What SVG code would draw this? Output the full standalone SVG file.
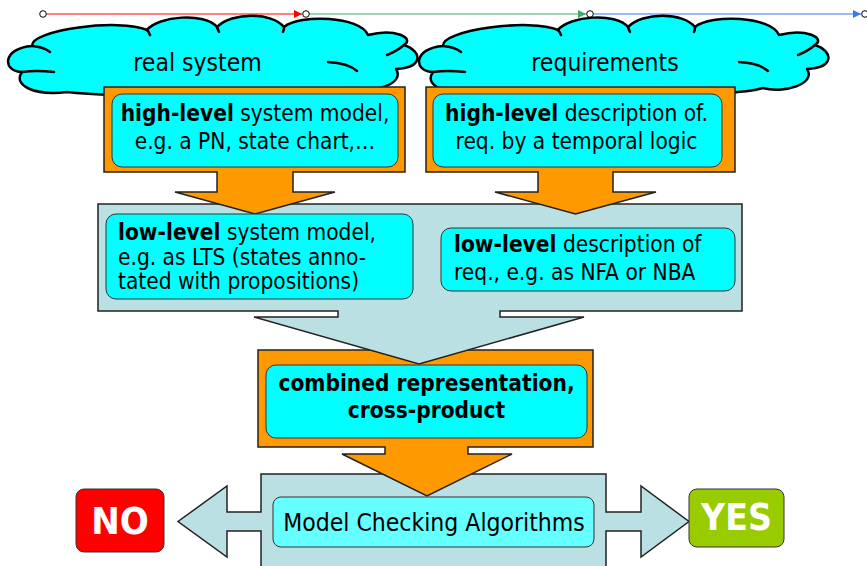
<svg xmlns="http://www.w3.org/2000/svg" xmlns:xlink="http://www.w3.org/1999/xlink" width="867" height="566" viewBox="0 0 867 566">
<style>
.cloud{fill:#00FFFF;stroke:#000;stroke-width:2.5;stroke-linejoin:round}
.inner{fill:none;stroke:#000;stroke-width:2.5;stroke-linecap:round}
.orange{fill:#FF9900;stroke:#222;stroke-width:1.5;stroke-linejoin:miter}
.teal{fill:#BBE0E3;stroke:#222;stroke-width:1.5}
.cyan{fill:#00FFFF;stroke:#333;stroke-width:1}
.lcyan{fill:#66FFFF;stroke:#333;stroke-width:1}
.t{font-family:"DejaVu Sans Condensed","DejaVu Sans",sans-serif;font-stretch:condensed;font-size:22.5px;fill:#000}
.b{font-weight:bold}
.big{font-size:24.5px}
.w{fill:#fff;font-weight:bold}
.no{font-size:38px}
.yes{font-size:37px}
.dot{fill:#fff;stroke:#000;stroke-width:1}
</style>
<defs>
<marker id="mr" markerUnits="userSpaceOnUse" markerWidth="9" markerHeight="8" refX="8" refY="4" orient="auto"><path d="M0,0 L8,4 L0,8 Z" fill="#FF0000"/></marker>
<marker id="mg" markerUnits="userSpaceOnUse" markerWidth="9" markerHeight="8" refX="8" refY="4" orient="auto"><path d="M0,0 L8,4 L0,8 Z" fill="#3FA76A"/></marker>
<marker id="mb" markerUnits="userSpaceOnUse" markerWidth="9" markerHeight="8" refX="8" refY="4" orient="auto"><path d="M0,0 L8,4 L0,8 Z" fill="#3F75F5"/></marker>
<g id="cloudShape">
<path class="cloud" d="M67,92 C36,96 12,86 22,72 C2,72 2,48 32,46 C30,30 120,18 147,30 C158,16 205,12 217,27 C232,12 272,12 284,27 C300,14 360,16 368,35 C395,28 415,38 404,45 C424,52 422,68 396,69 C406,84 372,94 352,88 C320,98 120,98 67,92 Z"/>
<path class="inner" d="M22,72 Q36,70 54,72 M32,46 Q44,47 50,52 M147,30 Q149,32 150,35 M217,27 Q218,30 219,32 M284,27 Q284,30 283,32 M404,45 Q397,51 387,55 M328,62 Q348,63 357,71"/>
</g>
</defs>

<g id="connectors">
<line x1="46.5" y1="14" x2="302" y2="14" stroke="#FF0000" stroke-width="1.2" marker-end="url(#mr)"/>
<line x1="309.5" y1="14" x2="586" y2="14" stroke="#3FA76A" stroke-width="1.2" marker-end="url(#mg)"/>
<line x1="593.5" y1="14" x2="861" y2="14" stroke="#3F75F5" stroke-width="1.2" marker-end="url(#mb)"/>
<circle class="dot" cx="43" cy="14" r="3.3"/>
<circle class="dot" cx="306" cy="14" r="3.3"/>
<circle class="dot" cx="590" cy="14" r="3.3"/>
<circle class="dot" cx="865" cy="14" r="3.3"/>
</g>

<g id="cloud-real-system">
<use xlink:href="#cloudShape"/>
<text class="t big" x="197.5" y="71" text-anchor="middle">real system</text>
</g>
<g id="cloud-requirements">
<use xlink:href="#cloudShape" transform="translate(411,0)"/>
<text class="t big" x="605" y="71" text-anchor="middle">requirements</text>
</g>

<g id="mc-algorithms">
<path class="teal" d="M261,580 V531 H227 V557 L178,521.5 L227,486 V512 H261 V474 H606 V512 H641 V486 L689,521.5 L641,557 V531 H606 V580 Z"/>
</g>

<g id="combined">
<path class="orange" d="M258,350 H593 V447 H468 V454 H512 L427,496 L342,454 H385 V447 H258 Z"/>
</g>

<g id="low-level">
<path class="teal" d="M98,204 H742 V311 H500 V317 H584 L419,364 L254,317 H338 V311 H98 Z"/>
</g>

<g id="high-level-system">
<path class="orange" d="M104,87 H405 V172 H293 V192 H335 L255,214 L175,192 H217 V172 H104 Z"/>
<rect class="cyan" x="112" y="94" width="286" height="73" rx="10"/>
<text class="t" x="255" y="121" text-anchor="middle"><tspan class="b">high-level</tspan> system model,</text>
<text class="t" x="255" y="149" text-anchor="middle">e.g. a PN, state chart,…</text>
</g>

<g id="high-level-req">
<path class="orange" d="M426,87 H735 V172 H613 V192 H656 L575.5,214 L495,192 H538 V172 H426 Z"/>
<rect class="cyan" x="433" y="94" width="289" height="73" rx="10"/>
<text class="t" x="576.5" y="121" text-anchor="middle"><tspan class="b">high-level</tspan> description of.</text>
<text class="t" x="576.5" y="149" text-anchor="middle">req. by a temporal logic</text>
</g>

<g id="low-level-system">
<rect class="cyan" x="106" y="214" width="307" height="85" rx="10"/>
<text class="t" x="118" y="240"><tspan class="b">low-level</tspan> system model,</text>
<text class="t" x="118" y="265">e.g. as LTS (states anno-</text>
<text class="t" x="118" y="289">tated with propositions)</text>
</g>

<g id="low-level-req">
<rect class="cyan" x="441" y="228" width="294" height="63" rx="10"/>
<text class="t" x="454" y="252"><tspan class="b">low-level</tspan> description of</text>
<text class="t" x="454" y="280">req., e.g. as NFA or NBA</text>
</g>

<g id="combined-text">
<rect class="cyan" x="266" y="365" width="321" height="73" rx="10"/>
<text class="t b" x="426.5" y="391" text-anchor="middle">combined representation,</text>
<text class="t b" x="426.5" y="418" text-anchor="middle">cross-product</text>
</g>

<g id="mca-text">
<rect class="lcyan" x="273" y="497" width="321" height="50" rx="8"/>
<text class="t big" x="434" y="531" text-anchor="middle">Model Checking Algorithms</text>
</g>

<g id="no">
<rect x="76" y="489" width="88" height="63" rx="8" fill="#FF0000" stroke="#333" stroke-width="1"/>
<text class="t w no" x="120" y="534" text-anchor="middle">NO</text>
</g>

<g id="yes">
<rect x="689" y="489" width="95" height="58" rx="8" fill="#99CC00" stroke="#333" stroke-width="1"/>
<text class="t w yes" x="736.5" y="530" text-anchor="middle">YES</text>
</g>
</svg>
